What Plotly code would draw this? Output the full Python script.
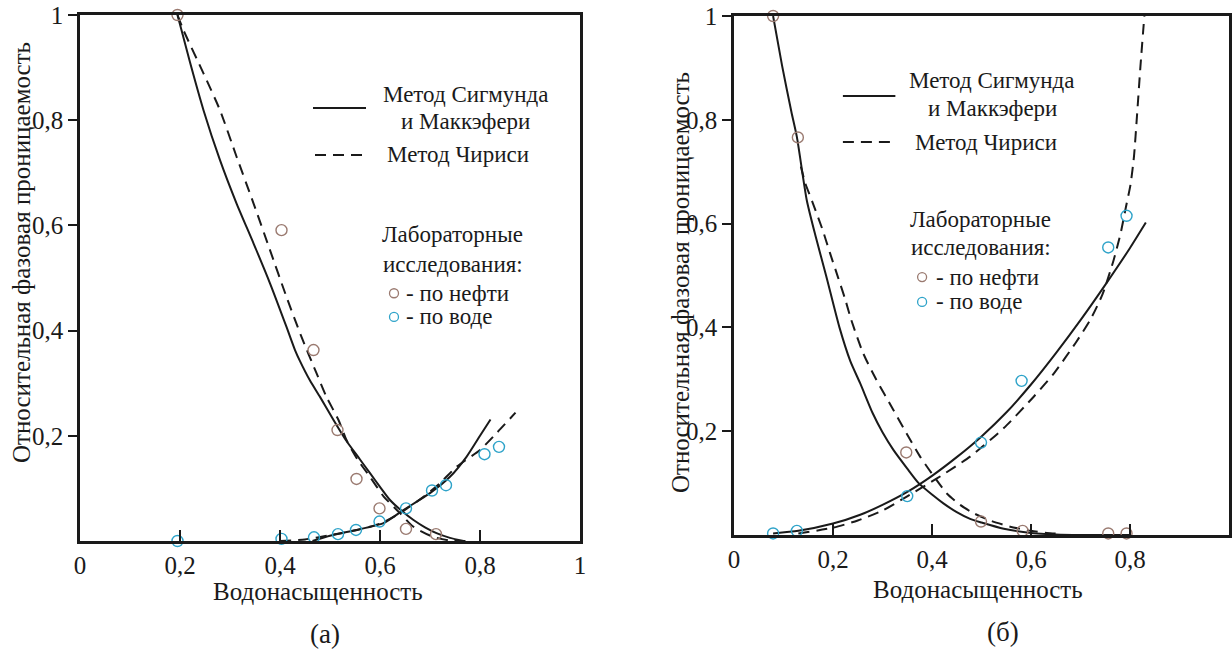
import plotly.graph_objects as go

# ---------- (а) left panel ----------
a_oil_x = [0.195, 0.403, 0.467, 0.515, 0.553, 0.599, 0.652, 0.712]
a_oil_y = [1.0, 0.591, 0.363, 0.211, 0.118, 0.062, 0.023, 0.013]
a_wat_x = [0.195, 0.403, 0.468, 0.516, 0.552, 0.599, 0.652, 0.704, 0.732, 0.809, 0.838]
a_wat_y = [0.0, 0.004, 0.007, 0.013, 0.021, 0.037, 0.062, 0.096, 0.106, 0.165, 0.179]

# Sigmund-McCaffery curves
a_sm_oil_x = [0.195, 0.22, 0.247, 0.28, 0.313, 0.347, 0.38, 0.413, 0.43, 0.44, 0.46, 0.48,
              0.507, 0.533, 0.56, 0.58, 0.6, 0.62, 0.645, 0.667, 0.69, 0.713, 0.74, 0.767]
a_sm_oil_y = [1.0, 0.91, 0.819, 0.724, 0.642, 0.566, 0.49, 0.407, 0.363, 0.342, 0.305, 0.274,
              0.23, 0.19, 0.155, 0.129, 0.103, 0.078, 0.056, 0.04, 0.026, 0.015, 0.006, 0.0]
a_sm_wat_x = [0.465, 0.5, 0.553, 0.607, 0.647, 0.7, 0.74, 0.773, 0.8, 0.821]
a_sm_wat_y = [0.0, 0.01, 0.021, 0.034, 0.059, 0.091, 0.122, 0.16, 0.2, 0.231]

# Chierici curves
a_ch_oil_x = [0.195, 0.207, 0.247, 0.28, 0.313, 0.347, 0.38, 0.413, 0.443, 0.473, 0.493,
              0.517, 0.533, 0.555, 0.58, 0.607, 0.64, 0.667, 0.706, 0.74, 0.775]
a_ch_oil_y = [1.0, 0.971, 0.889, 0.819, 0.731, 0.642, 0.553, 0.464, 0.388, 0.319, 0.274,
              0.23, 0.192, 0.155, 0.122, 0.085, 0.053, 0.027, 0.008, 0.001, 0.0]
a_ch_wat_x = [0.40, 0.45, 0.5, 0.55, 0.6, 0.64, 0.687, 0.72, 0.753, 0.8, 0.833, 0.871]
a_ch_wat_y = [0.0, 0.003, 0.011, 0.02, 0.033, 0.053, 0.084, 0.11, 0.141, 0.173, 0.205, 0.244]

# ---------- (б) right panel ----------
b_oil_x = [0.079, 0.129, 0.348, 0.499, 0.583, 0.756, 0.793]
b_oil_y = [1.0, 0.766, 0.159, 0.026, 0.008, 0.003, 0.003]
b_wat_x = [0.079, 0.127, 0.35, 0.499, 0.581, 0.756, 0.793]
b_wat_y = [0.003, 0.008, 0.075, 0.178, 0.297, 0.554, 0.615]

b_sm_oil_x = [0.079, 0.097, 0.116, 0.127, 0.147, 0.165, 0.186, 0.213, 0.235, 0.255, 0.28, 0.3,
              0.322, 0.35, 0.373, 0.4, 0.423, 0.45, 0.477, 0.5, 0.545, 0.6, 0.65, 0.7, 0.8]
b_sm_oil_y = [1.0, 0.905, 0.815, 0.767, 0.645, 0.575, 0.5, 0.4, 0.335, 0.292, 0.235, 0.198,
              0.164, 0.128, 0.1, 0.078, 0.061, 0.044, 0.031, 0.024, 0.012, 0.004, 0.001, 0.0, 0.0]
b_sm_wat_x = [0.079, 0.13, 0.2, 0.255, 0.3, 0.35, 0.4, 0.45, 0.5, 0.55, 0.6, 0.65, 0.7,
              0.75, 0.8, 0.832]
b_sm_wat_y = [0.003, 0.008, 0.022, 0.039, 0.058, 0.083, 0.114, 0.15, 0.19, 0.236, 0.29,
              0.35, 0.414, 0.482, 0.553, 0.602]

b_ch_oil_x = [0.135, 0.144, 0.159, 0.179, 0.194, 0.21, 0.225, 0.237, 0.261, 0.287, 0.322,
              0.346, 0.376, 0.4, 0.43, 0.457, 0.484, 0.52, 0.558, 0.6, 0.632, 0.66]
b_ch_oil_y = [0.71, 0.678, 0.64, 0.588, 0.543, 0.497, 0.453, 0.414, 0.35, 0.3, 0.241,
              0.2, 0.151, 0.118, 0.08, 0.058, 0.042, 0.027, 0.016, 0.008, 0.004, 0.002]
b_ch_wat_x = [0.13, 0.2, 0.25, 0.3, 0.349, 0.41, 0.477, 0.545, 0.605, 0.646, 0.69, 0.72,
              0.745, 0.767, 0.781, 0.792, 0.801, 0.808, 0.814, 0.821, 0.829]
b_ch_wat_y = [0.003, 0.014, 0.028, 0.047, 0.074, 0.109, 0.151, 0.206, 0.266, 0.311, 0.37, 0.415,
              0.465, 0.53, 0.581, 0.633, 0.675, 0.729, 0.806, 0.902, 1.0]

x_ticks = [0, 0.2, 0.4, 0.6, 0.8, 1]
x_tick_text = ["0", "0,2", "0,4", "0,6", "0,8", "1"]
y_ticks = [0.2, 0.4, 0.6, 0.8, 1]
y_tick_text = ["0,2", "0,4", "0,6", "0,8", "1"]

OIL_COLOR = "#9a7a70"
WATER_COLOR = "#2ea3c9"
INK = "#1a1a1a"
FONT = "Liberation Serif, Times New Roman, DejaVu Serif, serif"
W, H = 1232, 654

fig = go.Figure()


def add_panel(xa, ya, sm_oil, sm_wat, ch_oil, ch_wat, oil, wat):
    for (xs, ys) in (sm_oil, sm_wat):
        fig.add_trace(go.Scatter(x=xs, y=ys, mode="lines", xaxis=xa, yaxis=ya,
                                 line=dict(color=INK, width=2, shape="spline", smoothing=0.6),
                                 showlegend=False, hoverinfo="skip"))
    for (xs, ys) in (ch_oil, ch_wat):
        fig.add_trace(go.Scatter(x=xs, y=ys, mode="lines", xaxis=xa, yaxis=ya,
                                 line=dict(color=INK, width=2, dash="11px,7px",
                                           shape="spline", smoothing=0.6),
                                 showlegend=False, hoverinfo="skip"))
    for (xs, ys), col in ((oil, OIL_COLOR), (wat, WATER_COLOR)):
        fig.add_trace(go.Scatter(x=xs, y=ys, mode="markers", xaxis=xa, yaxis=ya,
                                 cliponaxis=False,
                                 marker=dict(symbol="circle-open", size=11, color=col,
                                             line=dict(width=1.4, color=col)),
                                 showlegend=False))


add_panel("x", "y", (a_sm_oil_x, a_sm_oil_y), (a_sm_wat_x, a_sm_wat_y),
          (a_ch_oil_x, a_ch_oil_y), (a_ch_wat_x, a_ch_wat_y),
          (a_oil_x, a_oil_y), (a_wat_x, a_wat_y))
add_panel("x2", "y2", (b_sm_oil_x, b_sm_oil_y), (b_sm_wat_x, b_sm_wat_y),
          (b_ch_oil_x, b_ch_oil_y), (b_ch_wat_x, b_ch_wat_y),
          (b_oil_x, b_oil_y), (b_wat_x, b_wat_y))


def px_x(p):
    return p / W


def px_y(p):
    return 1 - p / H


def xaxis_style(dom, anchor):
    return dict(domain=dom, range=[0, 1], tickvals=x_ticks, ticktext=x_tick_text,
                ticks="inside", ticklen=11, tickwidth=2, tickcolor=INK, anchor=anchor,
                showline=True, linewidth=2.5, linecolor=INK, mirror=True, automargin=False,
                showgrid=False, zeroline=False, fixedrange=True,
                tickfont=dict(family=FONT, size=25, color=INK))


def yaxis_style(dom, anchor):
    return dict(domain=dom, range=[0, 1], tickvals=y_ticks, ticktext=y_tick_text,
                ticks="outside", ticklen=9, tickwidth=2, tickcolor=INK, anchor=anchor,
                showline=True, linewidth=2.5, linecolor=INK, mirror=True, automargin=False,
                showgrid=False, zeroline=False, fixedrange=True,
                tickfont=dict(family=FONT, size=25, color=INK))


shapes = []
annotations = []


def legend(xr, yr, solid, dashed, txt1, txt2, txt3, lab1, lab2, mk_oil, mk_wat, txt_left):
    shapes.append(dict(type="line", xref=xr, yref=yr, x0=solid[0], x1=solid[1],
                       y0=solid[2], y1=solid[2], line=dict(color=INK, width=2)))
    shapes.append(dict(type="line", xref=xr, yref=yr, x0=dashed[0], x1=dashed[1],
                       y0=dashed[2], y1=dashed[2], line=dict(color=INK, width=2, dash="11px,7px")))
    f = dict(family=FONT, size=23, color=INK)
    for (x, y, t, anch) in (txt1 + ("center",), txt2 + ("center",), txt3 + ("left",),
                            lab1 + ("center",), lab2 + ("center",)):
        annotations.append(dict(xref=xr, yref=yr, x=x, y=y, text=t, showarrow=False,
                                xanchor=anch, yanchor="middle", font=f))
    for (mx, my, col, t) in (mk_oil + (OIL_COLOR, "- по нефти"), mk_wat + (WATER_COLOR, "- по воде")):
        fig.add_trace(go.Scatter(x=[mx], y=[my], mode="markers", xaxis=xr, yaxis=yr,
                                 marker=dict(symbol="circle-open", size=9, color=col,
                                             line=dict(width=1.3, color=col)),
                                 showlegend=False, hoverinfo="skip"))
        annotations.append(dict(xref=xr, yref=yr, x=txt_left, y=my, text=t, showarrow=False,
                                xanchor="left", yanchor="middle", font=f))


legend("x", "y", (0.466, 0.572, 0.823), (0.47, 0.578, 0.734),
       (0.77, 0.848, "Метод Сигмунда"), (0.77, 0.797, "и Маккэфери"),
       (0.61, 0.734, "Метод Чириси"),
       (0.745, 0.582, "Лабораторные"), (0.746, 0.525, "исследования:"),
       (0.628, 0.471), (0.628, 0.426), 0.648)
legend("x2", "y2", (0.22, 0.326, 0.846), (0.22, 0.326, 0.757),
       (0.521, 0.875, "Метод Сигмунда"), (0.523, 0.821, "и Маккэфери"),
       (0.362, 0.757, "Метод Чириси"),
       (0.497, 0.607, "Лабораторные"), (0.499, 0.553, "исследования:"),
       (0.38, 0.497), (0.38, 0.449), 0.404)

title_font = dict(family=FONT, size=25, color=INK)
for (x, y) in ((22, 253), (680, 283)):
    annotations.append(dict(xref="paper", yref="paper", x=px_x(x), y=px_y(y),
                            text="Относительная фазовая проницаемость", textangle=-90,
                            showarrow=False, xanchor="center", yanchor="middle", font=title_font))
for (x, y) in ((318, 591), (978, 589)):
    annotations.append(dict(xref="paper", yref="paper", x=px_x(x), y=px_y(y),
                            text="Водонасыщенность", showarrow=False,
                            xanchor="center", yanchor="middle", font=title_font))
for (x, y, t) in ((325, 634, "(а)"), (1003, 632, "(б)")):
    annotations.append(dict(xref="paper", yref="paper", x=px_x(x), y=px_y(y),
                            text=t, showarrow=False, xanchor="center", yanchor="middle",
                            font=dict(family=FONT, size=27, color=INK)))

fig.update_layout(
    width=W, height=H,
    margin=dict(l=0, r=0, t=0, b=0, autoexpand=False),
    paper_bgcolor="white", plot_bgcolor="white",
    showlegend=False,
    xaxis=xaxis_style([px_x(80), px_x(580)], "y"),
    yaxis=yaxis_style([px_y(541), px_y(15)], "x"),
    xaxis2=xaxis_style([px_x(734), px_x(1229)], "y2"),
    yaxis2=yaxis_style([px_y(535), px_y(16)], "x2"),
    shapes=shapes,
    annotations=annotations,
)

fig.write_html("out.html", config={"displayModeBar": False})
